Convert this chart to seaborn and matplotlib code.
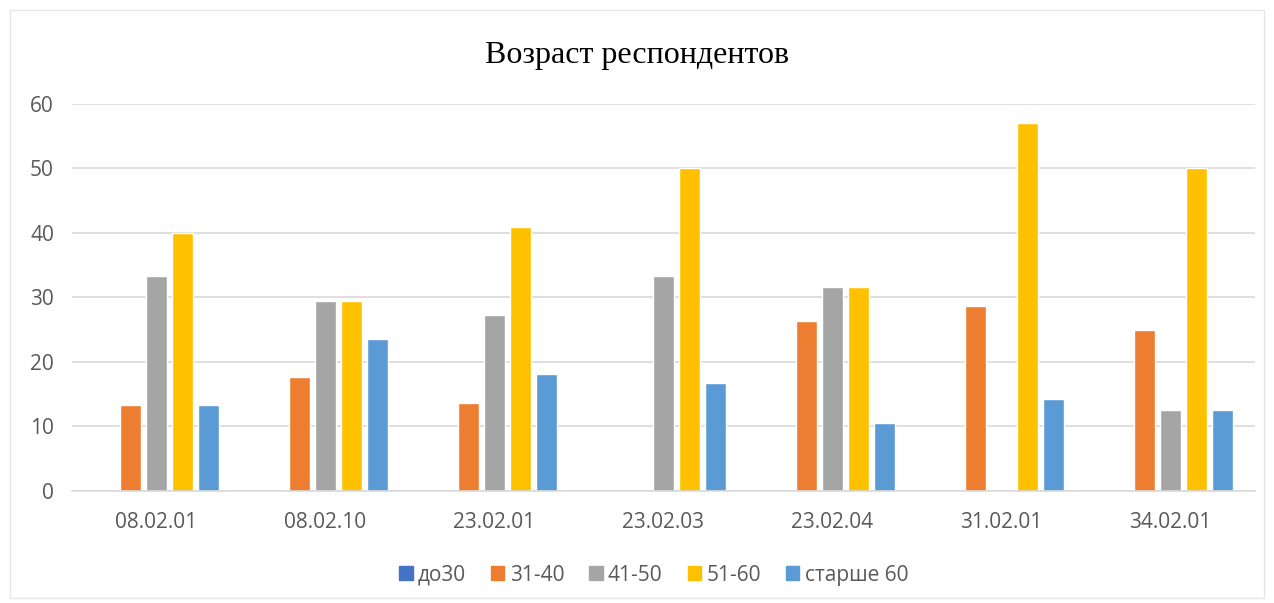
import matplotlib.pyplot as plt
import matplotlib.patches as mpatches
import numpy as np
import pandas as pd
import seaborn as sns

# chart values
codes = ["08.02.01", "08.02.10", "23.02.01", "23.02.03", "23.02.04", "31.02.01", "34.02.01"]
groups = ["до30", "31-40", "41-50", "51-60", "старше 60"]
do30 = [0, 0, 0, 0, 0, 0, 0]
age_31_40 = [13.3, 17.6, 13.6, 0, 26.3, 28.6, 25.0]
age_41_50 = [33.3, 29.4, 27.3, 33.3, 31.6, 0, 12.5]
age_51_60 = [40.0, 29.4, 40.9, 50.0, 31.6, 57.1, 50.0]
over_60 = [13.3, 23.5, 18.2, 16.7, 10.5, 14.3, 12.5]
colors = ["#4472C4", "#ED7D31", "#A5A5A5", "#FFC000", "#5B9BD5"]

series = [do30, age_31_40, age_41_50, age_51_60, over_60]
df = pd.DataFrame({
    "code": np.tile(codes, len(groups)),
    "group": np.repeat(groups, len(codes)),
    "value": np.concatenate(series),
})

sns.set_theme(style="white")
plt.rcParams["font.family"] = ["Open Sans", "DejaVu Sans"]

fig = plt.figure(figsize=(12.74, 6.03), dpi=100)
ax = fig.add_axes([0.0565, 0.186, 0.9285, 0.6415])

sns.barplot(data=df, x="code", y="value", hue="group", hue_order=groups,
            order=codes, palette=colors, width=0.77, gap=0.19,
            saturation=1, ax=ax, legend=False)

ax.set_ylim(0, 60)
ax.set_yticks(range(0, 61, 10))
ax.set_xlim(-0.5, len(codes) - 0.5)
ax.grid(axis="y", color="#D9D9D9", linewidth=1.2)
ax.set_axisbelow(True)
for s in ["top", "right", "left"]:
    ax.spines[s].set_visible(False)
ax.spines["bottom"].set_color("#D9D9D9")
ax.spines["bottom"].set_linewidth(1.2)
ax.tick_params(axis="both", length=0, labelsize=15, labelcolor="#595959")
ax.tick_params(axis="y", pad=13)
ax.tick_params(axis="x", pad=15)
ax.set_xlabel("")
ax.set_ylabel("")

fig.text(0.5, 0.908, "Возраст респондентов", ha="center", va="center",
         fontsize=23, family=["Liberation Serif", "DejaVu Serif"], color="black")

handles = [mpatches.Patch(color=c, label=g) for g, c in zip(groups, colors)]
fig.legend(handles=handles, loc="center", bbox_to_anchor=(0.513, 0.046), ncol=5,
           frameon=False, fontsize=15, labelcolor="#595959",
           handlelength=0.65, handleheight=0.65, handletextpad=0.25, columnspacing=1.2)

# faint chart border like the original
fig.patches.append(mpatches.Rectangle((0.008, 0.008), 0.984, 0.975, transform=fig.transFigure,
                                      fill=False, edgecolor="#E6E6E6", linewidth=1))

fig.savefig("out.png", dpi=100, facecolor="white")
